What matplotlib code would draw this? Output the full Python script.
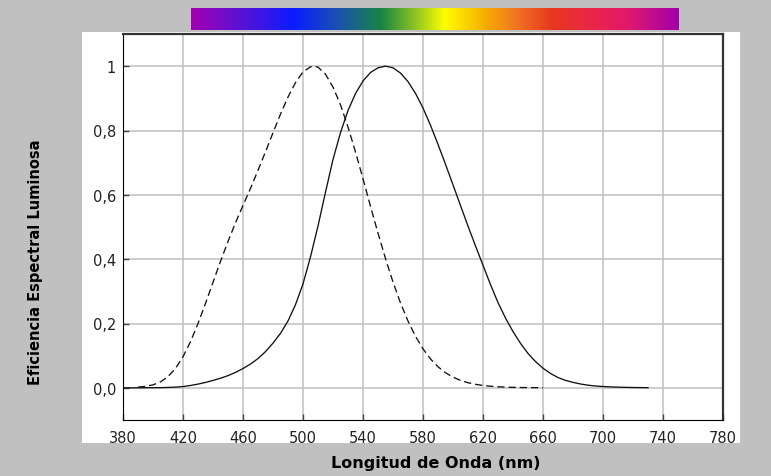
import numpy as np
import matplotlib
matplotlib.use("Agg")
import matplotlib.pyplot as plt
from matplotlib.colors import LinearSegmentedColormap
from matplotlib.patches import Rectangle

# ---- data ----
photopic_nm = [380, 385, 390, 395, 400, 405, 410, 415, 420, 425, 430, 435, 440,
               445, 450, 455, 460, 465, 470, 475, 480, 485, 490, 495, 500, 505,
               510, 515, 520, 525, 530, 535, 540, 545, 550, 555, 560, 565, 570,
               575, 580, 585, 590, 595, 600, 605, 610, 615, 620, 625, 630, 635,
               640, 645, 650, 655, 660, 665, 670, 675, 680, 685, 690, 695, 700,
               705, 710, 715, 720, 725, 730]
photopic_v = [0.00004, 0.00006, 0.00012, 0.00022, 0.0004, 0.00064, 0.0012, 0.0022,
              0.004, 0.0073, 0.0116, 0.0168, 0.023, 0.0298, 0.038, 0.048, 0.060,
              0.0739, 0.091, 0.1126, 0.139, 0.1693, 0.208, 0.2586, 0.323, 0.4073,
              0.503, 0.6082, 0.710, 0.7932, 0.862, 0.9149, 0.954, 0.9803, 0.995,
              1.000, 0.995, 0.9786, 0.952, 0.9154, 0.870, 0.8163, 0.757, 0.6949,
              0.631, 0.5668, 0.503, 0.4412, 0.381, 0.321, 0.265, 0.217, 0.175,
              0.1382, 0.107, 0.0816, 0.061, 0.0446, 0.032, 0.0232, 0.017, 0.0119,
              0.0082, 0.0057, 0.0041, 0.0029, 0.0021, 0.0015, 0.0010, 0.0007, 0.0005]

scotopic_nm = [390, 395, 400, 405, 410, 415, 420, 425, 430, 435, 440, 445, 450,
               455, 460, 465, 470, 475, 480, 485, 490, 495, 500, 505, 507, 510,
               515, 520, 525, 530, 535, 540, 545, 550, 555, 560, 565, 570, 575,
               580, 585, 590, 595, 600, 605, 610, 615, 620, 625, 630, 635, 640,
               645, 650, 655, 660]
scotopic_v = [0.0022, 0.0045, 0.0093, 0.0185, 0.0348, 0.0604, 0.0966, 0.1436,
              0.1998, 0.2625, 0.3281, 0.3931, 0.455, 0.513, 0.567, 0.620, 0.676,
              0.734, 0.793, 0.851, 0.904, 0.949, 0.982, 0.998, 1.000, 0.997,
              0.975, 0.935, 0.880, 0.811, 0.733, 0.650, 0.564, 0.481, 0.402,
              0.3288, 0.2639, 0.2076, 0.1602, 0.1212, 0.0899, 0.0655, 0.0469,
              0.0332, 0.0231, 0.0159, 0.0109, 0.0074, 0.0050, 0.0033, 0.0022,
              0.0015, 0.0010, 0.0007, 0.0005, 0.0003]

x_ticks = [380, 420, 460, 500, 540, 580, 620, 660, 700, 740, 780]
y_ticks = [0.0, 0.2, 0.4, 0.6, 0.8, 1.0]
y_tick_labels = ["0,0", "0,2", "0,4", "0,6", "0,8", "1"]

x_label = "Longitud de Onda (nm)"
y_label = "Eficiencia Espectral Luminosa"

# spectrum bar colour stops
spectrum_stops = [(0.00, "#a200b2"), (0.10, "#5a12d4"), (0.21, "#0a1cff"),
                  (0.30, "#1a52b0"), (0.39, "#188444"), (0.46, "#8ec422"),
                  (0.52, "#ffff00"), (0.60, "#f6b000"), (0.67, "#f07222"),
                  (0.74, "#e8381e"), (0.86, "#e81e5a"), (0.90, "#e0186e"),
                  (1.00, "#a200aa")]

# ---- figure ----
W, H = 771, 477
fig = plt.figure(figsize=(W / 100, H / 100), dpi=100, facecolor="#c0c0c0")

# white panel (behind everything)
fig.patches.append(Rectangle((82 / W, 1 - 444 / H), 658 / W, 411 / H,
                             transform=fig.transFigure, facecolor="white",
                             edgecolor="none", zorder=-10))

# spectrum bar
sax = fig.add_axes([191 / W, 1 - 31 / H, 488 / W, 22 / H])
sax.set_zorder(5)
cmap = LinearSegmentedColormap.from_list("spec", spectrum_stops)
sax.imshow(np.linspace(0, 1, 512)[None, :], aspect="auto", cmap=cmap,
           extent=[0, 1, 0, 1])
sax.set_axis_off()

ax = fig.add_axes([123 / W, 1 - 421 / H, 600 / W, 386 / H])
ax.set_zorder(5)
ax.set_facecolor("white")

ax.plot(photopic_nm, photopic_v, color="#111111", lw=0.95, zorder=3)
ax.plot(scotopic_nm, scotopic_v, color="#111111", lw=0.95, zorder=3,
        dashes=(5.5, 3.0))

ax.set_xlim(380, 780)
ax.set_ylim(-0.1, 1.1)
ax.set_xticks(x_ticks)
ax.set_yticks(y_ticks)
ax.set_yticklabels(y_tick_labels)
ax.grid(True, color="#c0c0c0", lw=1.1, zorder=1)
ax.set_axisbelow(True)

for side in ("left", "bottom"):
    ax.spines[side].set_linewidth(0.8)
    ax.spines[side].set_color("#000000")
for side in ("top", "right"):
    ax.spines[side].set_linewidth(1.6)
    ax.spines[side].set_color("#333333")

ax.tick_params(axis="both", direction="in", length=4, width=1.0,
               color="#444444", labelsize=10.5, labelcolor="#222222")
ax.tick_params(axis="x", pad=7)
ax.tick_params(axis="y", pad=5)

fig.text(436 / W, 1 - 464 / H, x_label, ha="center", va="center",
         fontsize=11.5, fontweight="bold", color="#000000")
fig.text(36 / W, 1 - 262 / H, y_label, ha="center", va="center",
         rotation=90, fontsize=10.5, fontweight="bold", color="#000000")

fig.savefig("out.png", dpi=100, facecolor=fig.get_facecolor())
